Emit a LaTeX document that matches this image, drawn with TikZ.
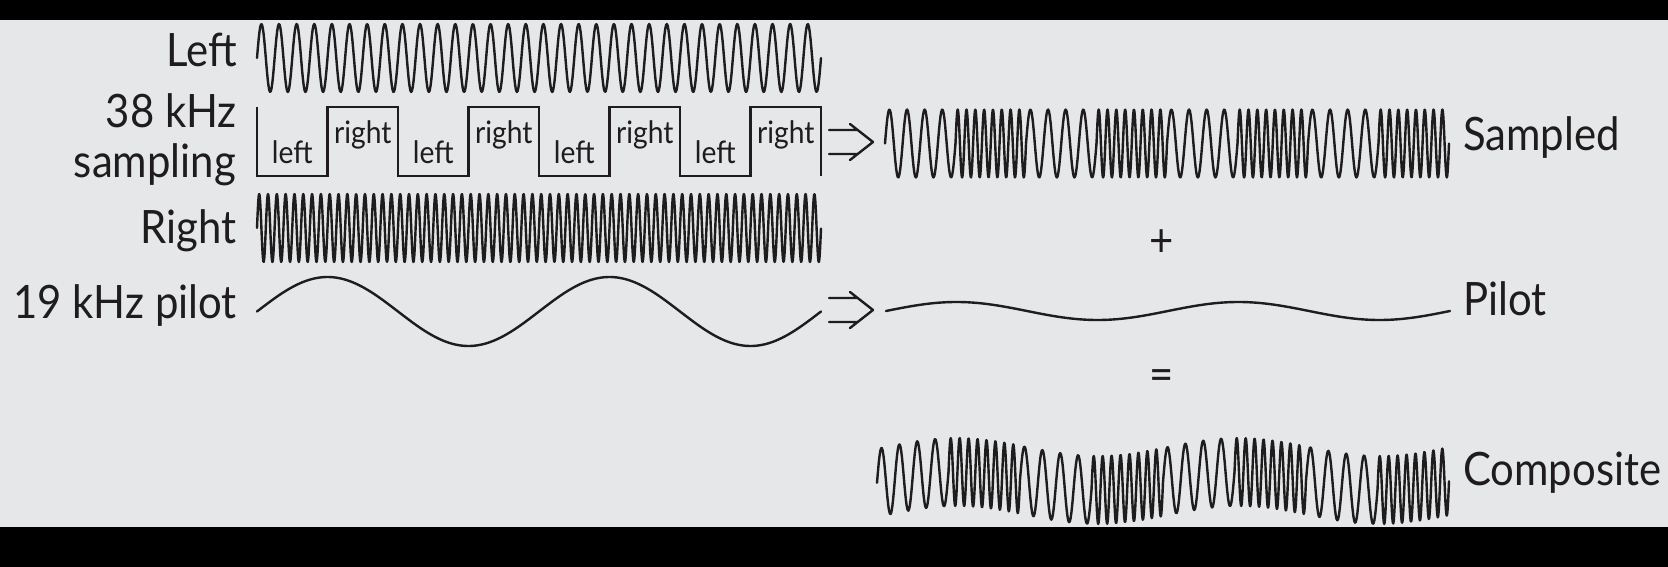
\documentclass[tikz,border=0pt]{standalone}
\usepackage{fontspec}
\setmainfont[FakeStretch=0.91]{Lato}
\definecolor{bg}{RGB}{230,231,232}
\definecolor{ink}{RGB}{30,28,29}
\tikzset{
  wave/.style={draw=ink, line width=2.4pt, line join=round, line cap=round},
  lab/.style={inner sep=0pt, text=ink, font=\fontsize{46}{50}\selectfont},
  small/.style={inner sep=0pt, text=ink, font=\fontsize{31}{34}\selectfont},
  dbl/.pic={\draw[wave] (0,-12)--(28,-12) (0,12)--(28,12) (21,-18)--(44,0)--(21,18);}
}
\begin{document}
\begin{tikzpicture}[x=1pt,y=-1pt]
\fill[black] (0,0) rectangle (1668,567);
\fill[bg] (0,20) rectangle (1668,527);
\useasboundingbox (0,0) rectangle (1668,567);

% left labels
\node[lab, anchor=base east] (lLeft) at (237,67) {Left};
\node[lab, anchor=base east] (l38) at (237,128) {38 kHz};
\node[lab, anchor=base east] (lsamp) at (236,178) {sampling};
\node[lab, anchor=base east] (lRight) at (237,243) {Right};
\node[lab, anchor=base east] (lpilot) at (237,318) {19 kHz pilot};

% Left signal
\draw[wave] plot[domain=0:564, samples=700] ({257+\x},{58-34*sin(mod(\x,17.625)*20.42553)});
% Right signal
\draw[wave] plot[domain=0:564, samples=1500] ({257+\x},{228-34*sin(mod(\x,8.8125)*40.85106)});
% 19 kHz pilot
\draw[wave] plot[domain=0:564, samples=200] ({257+\x},{311.5-34.5*sin(\x*1.276596)});

% 38 kHz sampling square wave
\draw[wave, line cap=butt, line join=miter] (257,107)--(257,176)--(327.5,176)--(327.5,107)--(398,107)--(398,176)--(468.5,176)--(468.5,107)--(539,107)--(539,176)--(609.5,176)--(609.5,107)--(680,107)--(680,176)--(750.5,176)--(750.5,107)--(821,107)--(821,176);
\foreach \k [count=\i] in {0,2,4,6}{
  \node[small, anchor=base] (sl\i) at ({257+70.5*\k+35.25},164) {left};
  \node[small, anchor=base] (sr\i) at ({257+70.5*(\k+1)+35.25},143) {right};
}

% arrows
\coordinate (a1) at (829,142);
\coordinate (a2) at (829,310);
\pic at (a1) {dbl};
\pic at (a2) {dbl};

% Sampled
\foreach \k in {0,2,4,6}{
  \draw[wave] plot[domain=0:70.5, samples=90] ({885+70.5*\k+\x},{143.5-34*sin(mod(\x,17.625)*20.42553)});
}
\foreach \k in {1,3,5,7}{
  \draw[wave] plot[domain=0:70.5, samples=160] ({885+70.5*\k+\x},{143.5-34*sin(mod(\x,8.8125)*40.85106)});
}
\node[lab, anchor=base west] (rsamp) at (1463,151) {Sampled};

\node[lab] (plus) at (1162,243) {+};

% Pilot (small)
\draw[wave] plot[domain=0:564, samples=200] ({886+\x},{311-9*sin(\x*1.276596)});
\node[lab, anchor=base west] (rpilot) at (1463,315) {Pilot};

\node[lab] (eq) at (1162,380) {=};

% Composite
\foreach \k in {0,2,4,6}{
  \draw[wave] plot[domain=0:71.5, samples=90] ({877+71.5*\k+\x},{481-34*sin(mod(\x,17.875)*20.13986)-9*sin((877+71.5*\k+\x-886)*1.276596)});
}
\foreach \k in {1,3,5,7}{
  \draw[wave] plot[domain=0:71.5, samples=160] ({877+71.5*\k+\x},{481-34*sin(mod(\x,8.9375)*40.27972)-9*sin((877+71.5*\k+\x-886)*1.276596)});
}
\node[lab, anchor=base west] (rcomp) at (1463,485) {Composite};
\end{tikzpicture}
\end{document}
